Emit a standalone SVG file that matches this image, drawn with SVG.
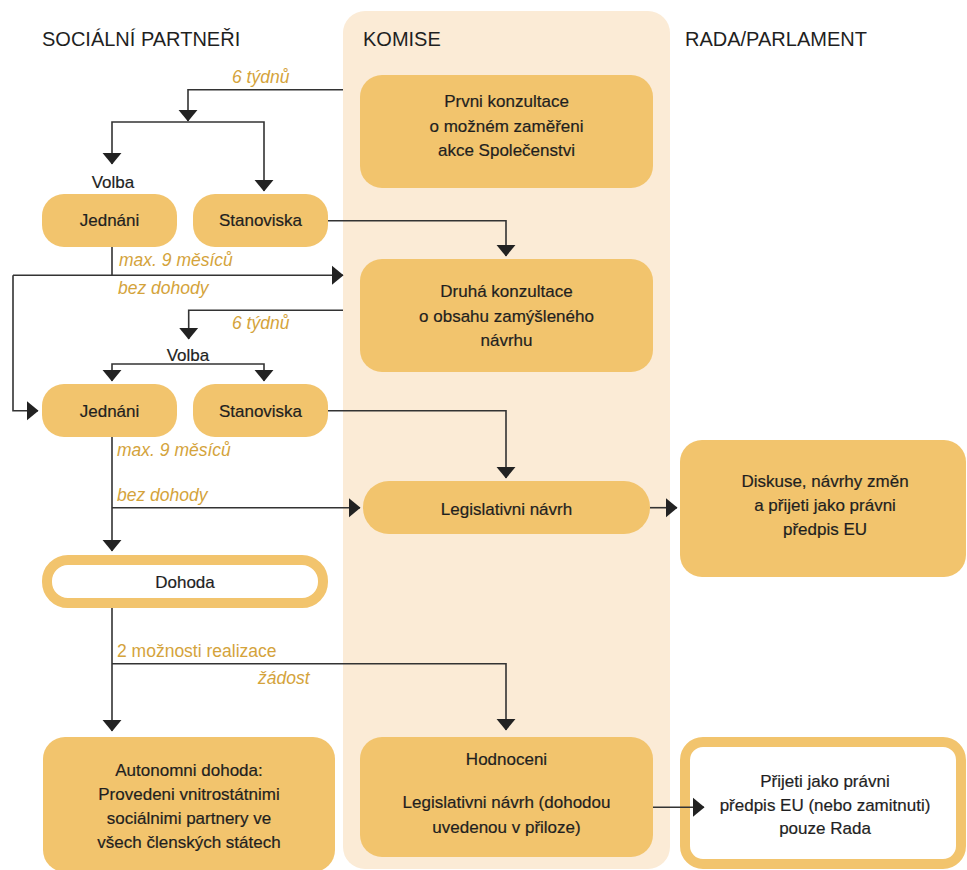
<svg xmlns="http://www.w3.org/2000/svg" width="967" height="870" viewBox="0 0 967 870">
<style>
.hdr{font-family:"Liberation Sans",Arial,sans-serif;font-size:20px;fill:#1f1f1f}
.box{fill:#F2C46D}
.t{font-family:"Liberation Sans",Arial,sans-serif;font-size:17px;fill:#1f1f1f;text-anchor:middle;stroke:#1f1f1f;stroke-width:0.2}
.t17{font-family:"Liberation Sans",Arial,sans-serif;font-size:17px;fill:#1f1f1f;text-anchor:middle;stroke:#1f1f1f;stroke-width:0.2}
.lbl{font-family:"Liberation Sans",Arial,sans-serif;font-size:17.5px;fill:#D4A33B;font-style:italic}
.lbln{font-family:"Liberation Sans",Arial,sans-serif;font-size:17.5px;fill:#D4A33B}
.con{fill:none;stroke:#333;stroke-width:1.6}
</style>
<defs>
<marker id="ah" markerUnits="userSpaceOnUse" markerWidth="12" markerHeight="20" viewBox="0 0 11 18" refX="10.5" refY="9" orient="auto">
<path d="M0,0 L11,9 L0,18 z" fill="#222"/>
</marker>
</defs>
<rect x="343" y="11" width="327" height="858" rx="22" fill="#FBEBD6"/>
<text class="hdr" x="42" y="46">SOCIÁLNÍ PARTNEŘI</text>
<text class="hdr" x="363" y="46">KOMISE</text>
<text class="hdr" x="685" y="46">RADA/PARLAMENT</text>

<g id="labels">
<text class="lbl" x="232" y="83">6 týdnů</text>
<text class="t" x="113" y="188">Volba</text>
<text class="lbl" x="119" y="266">max. 9 měsíců</text>
<text class="lbl" x="118" y="294">bez dohody</text>
<text class="lbl" x="232" y="329">6 týdnů</text>
<text class="t" x="188" y="360.5">Volba</text>
<text class="lbl" x="117" y="456">max. 9 měsíců</text>
<text class="lbl" x="117" y="500.5">bez dohody</text>
<text class="lbln" x="117" y="656.5">2 možnosti realizace</text>
<text class="lbl" x="258" y="684">žádost</text>
</g>

<g id="prvni"><rect class="box" x="360" y="75" width="293" height="113" rx="22"/>
<text class="t" x="506.5" y="107">Prvni konzultace</text>
<text class="t" x="506.5" y="131.5">o možném zaměřeni</text>
<text class="t" x="506.5" y="155.5">akce Společenstvi</text></g>

<g id="jednani1"><rect class="box" x="42" y="194" width="135" height="53" rx="22"/>
<text class="t17" x="109.5" y="226">Jednáni</text></g>
<g id="stanoviska1"><rect class="box" x="193" y="194" width="135" height="53" rx="22"/>
<text class="t17" x="260.5" y="226">Stanoviska</text></g>

<g id="druha"><rect class="box" x="360" y="259" width="293" height="113" rx="22"/>
<text class="t" x="506.5" y="297">Druhá konzultace</text>
<text class="t" x="506.5" y="321.5">o obsahu zamýšleného</text>
<text class="t" x="506.5" y="345.5">návrhu</text></g>

<g id="jednani2"><rect class="box" x="42" y="384" width="135" height="53" rx="22"/>
<text class="t17" x="109.5" y="416.5">Jednáni</text></g>
<g id="stanoviska2"><rect class="box" x="193" y="384" width="135" height="53" rx="22"/>
<text class="t17" x="260.5" y="416.5">Stanoviska</text></g>

<g id="legislativni"><rect class="box" x="363" y="481" width="287" height="53" rx="26"/>
<text class="t17" x="506.5" y="515">Legislativni návrh</text></g>

<g id="diskuse"><rect class="box" x="680" y="440" width="286" height="137" rx="22"/>
<text class="t" x="825" y="487">Diskuse, návrhy změn</text>
<text class="t" x="825" y="511">a přijeti jako právni</text>
<text class="t" x="825" y="535">předpis EU</text></g>

<g id="dohoda"><rect x="47" y="560" width="276" height="43" rx="21" fill="#fff" stroke="#F2C46D" stroke-width="10"/>
<text class="t17" x="185" y="587.5">Dohoda</text></g>

<g id="autonomni"><rect class="box" x="43" y="737" width="292" height="135" rx="22"/>
<text class="t" x="189" y="776">Autonomni dohoda:</text>
<text class="t" x="189" y="800">Provedeni vnitrostátnimi</text>
<text class="t" x="189" y="824">sociálnimi partnery ve</text>
<text class="t" x="189" y="847.5">všech členských státech</text></g>

<g id="hodnoceni"><rect class="box" x="360" y="737" width="293" height="120" rx="22"/>
<text class="t" x="506.5" y="765">Hodnoceni</text>
<text class="t" x="506.5" y="808">Legislativni návrh (dohodou</text>
<text class="t" x="506.5" y="832.5">uvedenou v přiloze)</text></g>

<g id="prijeti"><rect x="685" y="742" width="276" height="122" rx="18" fill="#fff" stroke="#F2C46D" stroke-width="10"/>
<text class="t" x="825" y="786.5">Přijeti jako právni</text>
<text class="t" x="825" y="810.5">předpis EU (nebo zamitnuti)</text>
<text class="t" x="825" y="834">pouze Rada</text></g>

<g id="connectors">
<path class="con" d="M343,89.7 H188 V121" marker-end="url(#ah)"/>
<path class="con" d="M188,122 H112 V164" marker-end="url(#ah)"/>
<path class="con" d="M188,122 H264 V191" marker-end="url(#ah)"/>
<path class="con" d="M328,220.7 H506 V256" marker-end="url(#ah)"/>
<path class="con" d="M112,247 V275.3"/>
<path class="con" d="M13,275.3 H343" marker-end="url(#ah)"/>
<path class="con" d="M13,275.3 V410.7 H38" marker-end="url(#ah)"/>
<path class="con" d="M343,310.3 H188.7 V339" marker-end="url(#ah)"/>
<path class="con" d="M188,364 H112 V381" marker-end="url(#ah)"/>
<path class="con" d="M188,364 H264 V381" marker-end="url(#ah)"/>
<path class="con" d="M328,410.7 H506 V478" marker-end="url(#ah)"/>
<path class="con" d="M112,437 V551" marker-end="url(#ah)"/>
<path class="con" d="M112,507.7 H360" marker-end="url(#ah)"/>
<path class="con" d="M650,507.7 H677" marker-end="url(#ah)"/>
<path class="con" d="M112,608 V731" marker-end="url(#ah)"/>
<path class="con" d="M112,663.7 H506 V730" marker-end="url(#ah)"/>
<path class="con" d="M653,807.3 H704" marker-end="url(#ah)"/>
</g>
</svg>
